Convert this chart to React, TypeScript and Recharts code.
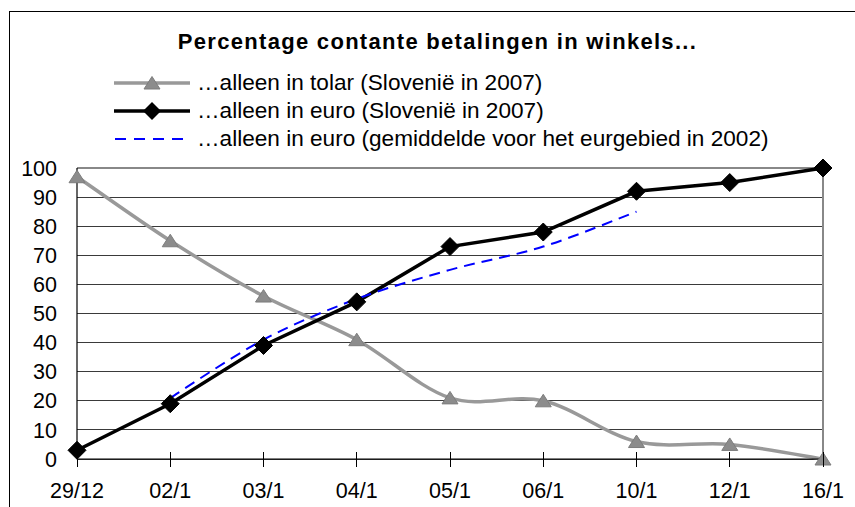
import React from 'react';
import { LineChart, Line, XAxis, YAxis, CartesianGrid, ReferenceLine, Legend } from 'recharts';

const categories = ['29/12', '02/1', '03/1', '04/1', '05/1', '06/1', '10/1', '12/1', '16/1'];
const tolarValues = [97, 75, 56, 41, 21, 20, 6, 5, 0];
const euroSloValues = [3, 19, 39, 54, 73, 78, 92, 95, 100];
const euroAreaValues: (number | null)[] = [null, 21, 41, 55, 65, 73, 85, null, null];
const yTicks = [0, 10, 20, 30, 40, 50, 60, 70, 80, 90, 100];
const titleText = 'Percentage contante betalingen in winkels...';
const seriesNames = [
  '\u2026alleen in tolar (Sloveni\u00eb in 2007)',
  '\u2026alleen in euro (Sloveni\u00eb in 2007)',
  '\u2026alleen in euro (gemiddelde voor het eurgebied in 2002)',
];

const data = categories.map((cat, i) => ({
  cat,
  tolar: tolarValues[i],
  euroSlo: euroSloValues[i],
  euroArea: euroAreaValues[i],
}));

const FONT = "'Liberation Sans', Arial, sans-serif";

// Excel-like smoothed line (Catmull-Rom through the points)
function excelSmooth(context: any) {
  let pts: number[][] = [];
  return {
    areaStart() {},
    areaEnd() {},
    lineStart() {
      pts = [];
    },
    point(x: number, y: number) {
      pts.push([+x, +y]);
    },
    lineEnd() {
      const n = pts.length;
      if (n === 0) return;
      context.moveTo(pts[0][0], pts[0][1]);
      for (let i = 0; i < n - 1; i++) {
        const p0 = pts[i - 1] || pts[i];
        const p1 = pts[i];
        const p2 = pts[i + 1];
        const p3 = pts[i + 2] || p2;
        context.bezierCurveTo(
          p1[0] + (p2[0] - p0[0]) / 6,
          p1[1] + (p2[1] - p0[1]) / 6,
          p2[0] - (p3[0] - p1[0]) / 6,
          p2[1] - (p3[1] - p1[1]) / 6,
          p2[0],
          p2[1]
        );
      }
    },
  };
}

const triPath = (cx: number, cy: number) => `M${cx},${cy - 6.5}L${cx + 8},${cy + 6}L${cx - 8},${cy + 6}Z`;
const diaPath = (cx: number, cy: number) => `M${cx},${cy - 9}L${cx + 9},${cy}L${cx},${cy + 9}L${cx - 9},${cy}Z`;

const TriangleDot = (props: any) => {
  const { cx, cy, index } = props;
  if (cx == null || cy == null) return <g key={`t${index}`} />;
  return <path key={`t${index}`} d={triPath(cx, cy)} fill="#8c8c8c" stroke="#7d7d7d" strokeWidth={1} />;
};

const DiamondDot = (props: any) => {
  const { cx, cy, index } = props;
  if (cx == null || cy == null) return <g key={`d${index}`} />;
  return <path key={`d${index}`} d={diaPath(cx, cy)} fill="#000" stroke="#000" strokeWidth={1} />;
};

const XTick = (props: any) => {
  const { x, y, payload } = props;
  return (
    <g>
      <line x1={x} x2={x} y1={y - 15} y2={y} stroke="#000" strokeWidth={1} shapeRendering="crispEdges" />
      <text x={x} y={y + 31} textAnchor="middle" fontSize={21.5} fontFamily={FONT} fill="#000">
        {payload.value}
      </text>
    </g>
  );
};

const YTick = (props: any) => {
  const { x, y, payload } = props;
  return (
    <text x={x} y={y} dy="0.355em" textAnchor="end" fontSize={21.5} fontFamily={FONT} fill="#000">
      {payload.value}
    </text>
  );
};

const legendSample = (i: number) => {
  if (i === 0) {
    return (
      <>
        <line x1={0} x2={76} y1={14} y2={14} stroke="#999" strokeWidth={3.5} />
        <path d={triPath(38, 14)} fill="#8c8c8c" stroke="#7d7d7d" strokeWidth={1} />
      </>
    );
  }
  if (i === 1) {
    return (
      <>
        <line x1={0} x2={76} y1={14} y2={14} stroke="#000" strokeWidth={3.5} />
        <path d={diaPath(38, 14)} fill="#000" />
      </>
    );
  }
  return <line x1={1} x2={76} y1={14} y2={14} stroke="#0000ff" strokeWidth={2} strokeDasharray="11 8" />;
};

const renderLegend = () => (
  <div style={{ fontFamily: FONT, fontSize: 22.6, color: '#000' }}>
    {seriesNames.map((name, i) => (
      <div key={name} style={{ display: 'flex', alignItems: 'center', height: 28, lineHeight: '28px', whiteSpace: 'nowrap' }}>
        <svg width={76} height={28} style={{ display: 'block', marginRight: 7 }}>
          {legendSample(i)}
        </svg>
        <span>{name}</span>
      </div>
    ))}
  </div>
);

export default function App() {
  return (
    <div
      style={{
        position: 'absolute',
        left: 0,
        top: 0,
        width: 855,
        height: 507,
        overflow: 'hidden',
        background: '#fff',
      }}
    >
      <div
        style={{
          position: 'absolute',
          left: 9,
          top: 11,
          width: 900,
          height: 600,
          border: '1px solid #000',
          boxSizing: 'border-box',
        }}
      />
      <div
        style={{
          position: 'absolute',
          left: 0,
          top: 31,
          width: 875,
          textAlign: 'center',
          fontFamily: FONT,
          fontWeight: 'bold',
          fontSize: 22,
          lineHeight: '22px',
          letterSpacing: 1.3,
          color: '#000',
          whiteSpace: 'nowrap',
          zIndex: 2,
        }}
      >
        {titleText}
      </div>
      <LineChart
        width={855}
        height={507}
        data={data}
        margin={{ top: 168, right: 32, bottom: 0, left: 17 }}
        style={{ position: 'absolute', left: 0, top: 0 }}
      >
        <CartesianGrid horizontal vertical={false} stroke="#3a3a3a" strokeWidth={1} shapeRendering="crispEdges" />
        <ReferenceLine y={100} stroke="#888" strokeWidth={2} />
        <ReferenceLine x="16/1" stroke="#888" strokeWidth={2} />
        <XAxis
          dataKey="cat"
          interval={0}
          height={48}
          tickSize={8}
          tickMargin={0}
          tickLine={false}
          axisLine={{ stroke: '#000', strokeWidth: 1.2 }}
          tick={<XTick />}
        />
        <YAxis
          domain={[0, 100]}
          ticks={yTicks}
          width={60}
          tickSize={6}
          tickMargin={14}
          tickLine={false}
          axisLine={{ stroke: '#000', strokeWidth: 1.2 }}
          tick={<YTick />}
          interval={0}
        />
        <Legend
          layout="vertical"
          align="center"
          verticalAlign="middle"
          content={renderLegend}
          wrapperStyle={{ left: 114, top: 69, width: 720 }}
        />
        <Line
          dataKey="tolar"
          name={seriesNames[0]}
          type={excelSmooth as any}
          stroke="#999"
          strokeWidth={3.5}
          dot={TriangleDot}
          activeDot={false}
          isAnimationActive={false}
        />
        <Line
          dataKey="euroSlo"
          name={seriesNames[1]}
          type="linear"
          stroke="#000"
          strokeWidth={3.5}
          dot={DiamondDot}
          activeDot={false}
          isAnimationActive={false}
        />
        <Line
          dataKey="euroArea"
          name={seriesNames[2]}
          type={excelSmooth as any}
          stroke="#0000ff"
          strokeWidth={2}
          strokeDasharray="11 7"
          dot={false}
          activeDot={false}
          isAnimationActive={false}
        />
      </LineChart>
    </div>
  );
}
